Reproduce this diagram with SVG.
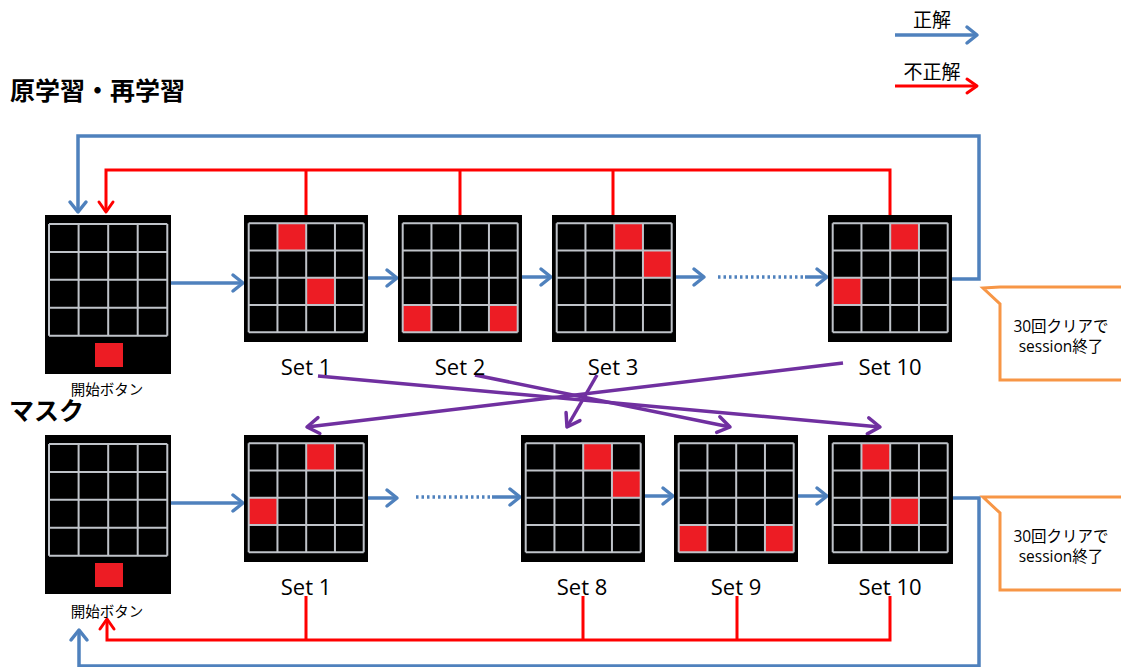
<svg xmlns="http://www.w3.org/2000/svg" xmlns:xlink="http://www.w3.org/1999/xlink" width="1121" height="667" viewBox="0 0 1121 667">
<style>
.box{fill:#000}
.red{fill:#ED1C24}
.gl{fill:none;stroke:#BFC3C9;stroke-width:2}
.lbl{font-family:"Open Sans","Noto Sans",sans-serif;font-size:22px;fill:#000;text-anchor:middle}
.jp{font-family:"Noto Sans CJK JP",sans-serif;fill:#000}
.title{font-family:"Noto Sans CJK JP",sans-serif;font-weight:bold;font-size:25px;fill:#000}
.blue{fill:none;stroke:#4F81BD;stroke-width:3.5}
.redl{fill:none;stroke:#FF0000;stroke-width:3}
.purp{fill:none;stroke:#7030A0;stroke-width:3.5}
.call{fill:#fff;stroke:#F79646;stroke-width:3}
.ct{font-family:"Open Sans","Noto Sans CJK JP",sans-serif;font-size:15.5px;fill:#000;text-anchor:middle}
</style>
<defs>
<marker id="mb" markerUnits="userSpaceOnUse" viewBox="0 0 12 18" refX="11" refY="9" markerWidth="12" markerHeight="18" orient="auto" overflow="visible"><path d="M1,1 L11,9 L1,17" fill="none" stroke="#4F81BD" stroke-width="3.5" stroke-linecap="round" stroke-linejoin="round"/></marker>
<marker id="mr" markerUnits="userSpaceOnUse" viewBox="0 0 12 16" refX="11" refY="8" markerWidth="12" markerHeight="16" orient="auto" overflow="visible"><path d="M1,1 L11,8 L1,15" fill="none" stroke="#FF0000" stroke-width="3" stroke-linecap="round" stroke-linejoin="round"/></marker>
<marker id="mp" markerUnits="userSpaceOnUse" viewBox="0 0 14 18" refX="13" refY="9" markerWidth="14" markerHeight="18" orient="auto" overflow="visible"><path d="M1,1 L13,9 L1,17" fill="none" stroke="#7030A0" stroke-width="3.5" stroke-linecap="round" stroke-linejoin="round"/></marker>
<path id="g4" class="gl" d="M0,0H115M0,27.25H115M0,54.5H115M0,81.75H115M0,109H115M0,0V109M28.75,0V109M57.5,0V109M86.25,0V109M115,0V109"/>
<path id="g5" class="gl" d="M0,0H118.3M0,27.9H118.3M0,55.8H118.3M0,83.8H118.3M0,111.7H118.3M0,0V111.7M29.6,0V111.7M59.2,0V111.7M88.7,0V111.7M118.3,0V111.7"/>
</defs>
<rect width="1121" height="667" fill="#fff"/>

<g id="legend">
<text class="jp" x="932" y="27" font-size="19" text-anchor="middle">正解</text>
<path class="blue" stroke-width="4" d="M895,35 H977" marker-end="url(#mb)"/>
<text class="jp" x="932" y="79" font-size="19" text-anchor="middle">不正解</text>
<path class="redl" d="M895,86 H977" marker-end="url(#mr)"/>
</g>

<g id="titles">
<text class="title" x="10" y="100">原学習・再学習</text>
<text class="title" x="9" y="420">マスク</text>
</g>

<g id="connectors">
<path class="blue" d="M952,279 H979 V136 H78 V212" marker-end="url(#mb)"/>
<path class="redl" d="M890,215 V170 H106 V212" marker-end="url(#mr)"/>
<path class="redl" d="M306,170 V215 M460,170 V215 M613,170 V215"/>
<path class="blue" d="M171,283 H243" marker-end="url(#mb)"/>
<path class="blue" d="M368,278 H397" marker-end="url(#mb)"/>
<path class="blue" d="M522,277 H551" marker-end="url(#mb)"/>
<path class="blue" d="M675,277 H704" marker-end="url(#mb)"/>
<path class="blue" d="M718,277 H805" stroke-width="3" stroke-dasharray="2.5 3"/>
<path class="blue" d="M805,277 H827" marker-end="url(#mb)"/>
<path class="purp" d="M318,376 L880,427" marker-end="url(#mp)"/>
<path class="purp" d="M475,375 L730,427" marker-end="url(#mp)"/>
<path class="purp" d="M597,375 L567,427" marker-end="url(#mp)"/>
<path class="purp" d="M843,363 L307,427" marker-end="url(#mp)"/>
<path class="blue" d="M171,503 H243" marker-end="url(#mb)"/>
<path class="blue" d="M368,498 H397" marker-end="url(#mb)"/>
<path class="blue" d="M416,497 H492" stroke-width="3" stroke-dasharray="2.5 3"/>
<path class="blue" d="M492,497 H520" marker-end="url(#mb)"/>
<path class="blue" d="M644,496 H673" marker-end="url(#mb)"/>
<path class="blue" d="M797,496 H827" marker-end="url(#mb)"/>
<path class="blue" d="M953,498 H979 V666 H79 V630" marker-end="url(#mb)"/>
<path class="redl" d="M890,596 V640 H107 V619" marker-end="url(#mr)"/>
<path class="redl" d="M306,596 V640 M583,596 V640 M737,596 V640"/>
</g>

<g id="start-top">
<rect class="box" x="45" y="215" width="126" height="159"/>
<use xlink:href="#g5" x="49" y="224"/>
<rect class="red" x="95" y="343" width="28" height="24"/>
<text class="jp" x="107" y="395" font-size="14.5" text-anchor="middle">開始ボタン</text>
</g>
<g id="set1-top">
<rect class="box" x="244" y="215" width="124" height="127"/>
<rect class="red" x="277.45" y="223.3" width="28.75" height="27.25"/>
<rect class="red" x="306.2" y="277.8" width="28.75" height="27.25"/>
<use xlink:href="#g4" x="248.7" y="223.3"/>
<text class="lbl" x="306" y="375">Set 1</text>
</g>
<g id="set2-top">
<rect class="box" x="398" y="215" width="124" height="127"/>
<rect class="red" x="402.7" y="305.05" width="28.75" height="27.25"/>
<rect class="red" x="488.95" y="305.05" width="28.75" height="27.25"/>
<use xlink:href="#g4" x="402.7" y="223.3"/>
<text class="lbl" x="460" y="375">Set 2</text>
</g>
<g id="set3-top">
<rect class="box" x="552" y="215" width="124" height="127"/>
<rect class="red" x="614.2" y="223.3" width="28.75" height="27.25"/>
<rect class="red" x="642.95" y="250.55" width="28.75" height="27.25"/>
<use xlink:href="#g4" x="556.7" y="223.3"/>
<text class="lbl" x="613" y="375">Set 3</text>
</g>
<g id="set10-top">
<rect class="box" x="828" y="215" width="124" height="127"/>
<rect class="red" x="890.2" y="223.3" width="28.75" height="27.25"/>
<rect class="red" x="832.7" y="277.8" width="28.75" height="27.25"/>
<use xlink:href="#g4" x="832.7" y="223.3"/>
<text class="lbl" x="890" y="375">Set 10</text>
</g>
<g id="callout-top">
<path class="call" d="M983,288 L1000,287 H1125 V380 H1000 V304 Z"/>
<text class="ct" x="1061" y="332">30回クリアで</text>
<text class="ct" x="1061" y="352">session終了</text>
</g>

<g id="start-bottom">
<rect class="box" x="45" y="435" width="126" height="159"/>
<use xlink:href="#g5" x="49" y="444"/>
<rect class="red" x="95" y="563" width="28" height="24"/>
<text class="jp" x="107" y="617" font-size="14.5" text-anchor="middle">開始ボタン</text>
</g>
<g id="set1-bottom">
<rect class="box" x="244" y="435" width="124" height="127"/>
<rect class="red" x="306.2" y="443.3" width="28.75" height="27.25"/>
<rect class="red" x="248.7" y="497.8" width="28.75" height="27.25"/>
<use xlink:href="#g4" x="248.7" y="443.3"/>
<text class="lbl" x="306" y="595">Set 1</text>
</g>
<g id="set8-bottom">
<rect class="box" x="521" y="435" width="124" height="127"/>
<rect class="red" x="583.2" y="443.3" width="28.75" height="27.25"/>
<rect class="red" x="611.95" y="470.55" width="28.75" height="27.25"/>
<use xlink:href="#g4" x="525.7" y="443.3"/>
<text class="lbl" x="582" y="595">Set 8</text>
</g>
<g id="set9-bottom">
<rect class="box" x="674" y="435" width="124" height="127"/>
<rect class="red" x="678.7" y="525.05" width="28.75" height="27.25"/>
<rect class="red" x="764.95" y="525.05" width="28.75" height="27.25"/>
<use xlink:href="#g4" x="678.7" y="443.3"/>
<text class="lbl" x="736" y="595">Set 9</text>
</g>
<g id="set10-bottom">
<rect class="box" x="828" y="435" width="125" height="129"/>
<rect class="red" x="861.45" y="443.3" width="28.75" height="27.25"/>
<rect class="red" x="890.2" y="497.8" width="28.75" height="27.25"/>
<use xlink:href="#g4" x="832.7" y="443.3"/>
<text class="lbl" x="890" y="595">Set 10</text>
</g>
<g id="callout-bottom">
<path class="call" d="M983,497 L1000,497 H1125 V590 H1000 V513 Z"/>
<text class="ct" x="1061" y="542">30回クリアで</text>
<text class="ct" x="1061" y="562">session終了</text>
</g>
</svg>
